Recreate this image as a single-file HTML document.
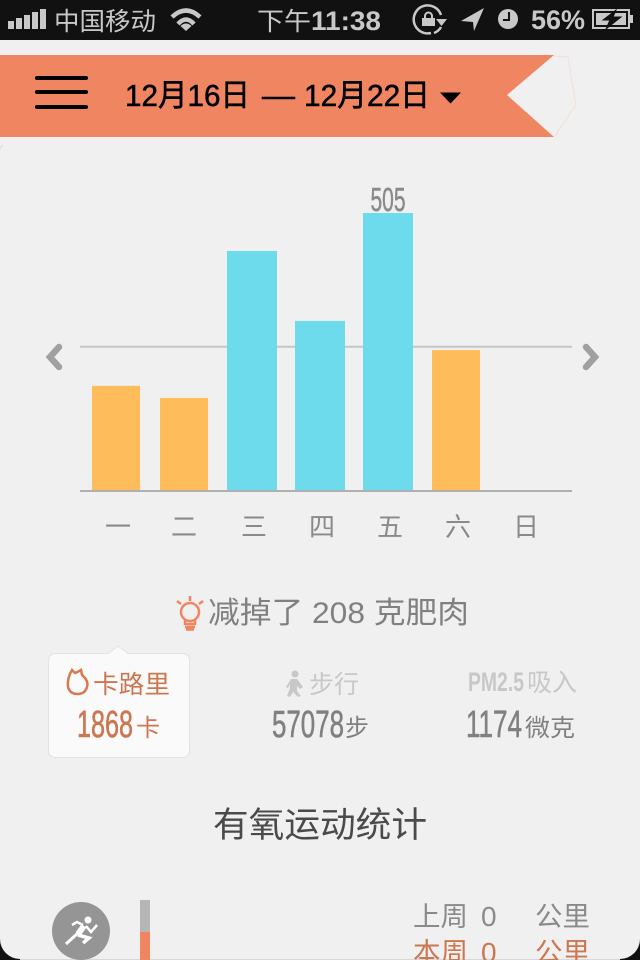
<!DOCTYPE html>
<html lang="zh">
<head>
<meta charset="utf-8">
<title>每周统计</title>
<style>
html,body{margin:0;padding:0;width:640px;height:960px;overflow:hidden;background:#111}
svg{display:block}
text{font-family:"Liberation Sans","Noto Sans CJK SC",sans-serif}
</style>
</head>
<body>
<svg id="screen" xmlns="http://www.w3.org/2000/svg" width="640" height="960" viewBox="0 0 640 960">
  <rect x="0" y="0" width="640" height="960" fill="#111111"/>
  <path d="M0 40H640V939A20 20 0 0 1 620 959H20A20 20 0 0 1 0 939Z" fill="#f0f0f0"/>
  <rect x="20" y="959" width="600" height="1" fill="#d8d8d8"/>
  <path d="M0 150Q0 146 3 145" fill="none" stroke="#dcdcdc" stroke-width="1"/>

  <g fill="#c8c8c8">
    <g>
      <rect x="8" y="21" width="6" height="8"/><rect x="16" y="18" width="6" height="11"/><rect x="24" y="15" width="6" height="14"/><rect x="32" y="12" width="6" height="17"/><rect x="40" y="9" width="6" height="20"/>
    </g>
    <text x="54" y="30" font-size="25" textLength="102" lengthAdjust="spacingAndGlyphs">中国移动</text>
    <g fill="none" stroke="#c8c8c8" stroke-width="4.500">
      <path d="M172 17Q186 4 200 17"/><path d="M178 24Q186 15 194 24"/><path d="M186 31L180.500 26Q186 21 191.500 26Z" fill="#c8c8c8" stroke="none"/>
    </g>
    <text x="257" y="30" font-size="25" textLength="54" lengthAdjust="spacingAndGlyphs">下午</text>
    <text x="311" y="30" font-size="27" font-weight="700" textLength="70" lengthAdjust="spacingAndGlyphs">11:38</text>
    <g>
      <path d="M431 33A14 14 0 1 1 441 15" fill="none" stroke="#c8c8c8" stroke-width="2.500"/>
      <path d="M436 19L447 19L441.500 26Z"/>
      <path d="M434 33Q439 31 441 27" fill="none" stroke="#c8c8c8" stroke-width="2.500"/>
      <rect x="422" y="18" width="13" height="8"/>
      <path d="M425 18V16A3.500 3.500 0 0 1 432 16V18" fill="none" stroke="#c8c8c8" stroke-width="2"/>
    </g>
    <path d="M484 8L461 21L473 22L474 31Z"/>
    <g>
      <circle cx="508" cy="19" r="10"/>
      <path d="M509 12V20H503" fill="none" stroke="#111" stroke-width="2"/>
    </g>
    <text x="531" y="29" font-size="27" font-weight="700" textLength="54" lengthAdjust="spacingAndGlyphs">56%</text>
    <g>
      <rect x="593" y="10" width="36" height="18" fill="none" stroke="#c8c8c8" stroke-width="2"/>
      <rect x="630" y="15" width="3" height="8"/>
      <rect x="596" y="13" width="30" height="12"/>
      <path d="M616 10L603 20H610L606 29L621 17H613Z" fill="#111" stroke="#111" stroke-width="1"/>
    </g>
  </g>

  <g>
    <path d="M0 55H554L507 95L554 137H0Z" fill="#f08562"/>
    <path d="M554 56L568 57L576 105L554 137" fill="none" stroke="#f5dfd7" stroke-width="1"/>
    <g stroke="#000" stroke-width="4" stroke-linecap="round">
      <line x1="37" y1="78" x2="86" y2="78"/><line x1="37" y1="92" x2="86" y2="92"/><line x1="37" y1="107" x2="86" y2="107"/>
    </g>
    <g fill="#000" stroke="#000" stroke-width="0.500">
      <text x="125" y="106" font-size="31" textLength="125" lengthAdjust="spacingAndGlyphs">12月16日</text>
      <text x="262" y="106" font-size="31" textLength="33" lengthAdjust="spacingAndGlyphs">—</text>
      <text x="304" y="106" font-size="31" textLength="126" lengthAdjust="spacingAndGlyphs">12月22日</text>
    </g>
    <path d="M440 92.500H461L450.500 103.500Z" fill="#000"/>
  </g>

  <g id="chart"></g>

  <path d="M59 347L50 357L59 367" fill="none" stroke="#a0a0a0" stroke-width="6.500" stroke-linecap="round" stroke-linejoin="miter"/>
  <path d="M586 347L595 357L586 367" fill="none" stroke="#a0a0a0" stroke-width="6.500" stroke-linecap="round" stroke-linejoin="miter"/>

  <g>
    <g fill="none" stroke="#f08562" stroke-width="2.500">
      <circle cx="190" cy="612" r="9"/>
      <path d="M185 620V624H195V620"/>
      <path d="M185 627H195M186 629.500H194"/>
      <path d="M190 596V601M177 601L181 604M203 601L199 604"/>
    </g>
    <text x="208" y="623" font-size="30" textLength="261" lengthAdjust="spacingAndGlyphs" fill="#808080">减掉了 208 克肥肉</text>
  </g>

  <g>
    <path d="M56 653.500H108L118 646L128 653.500H182Q189.500 653.500 189.500 661V750Q189.500 757.500 182 757.500H56Q48.500 757.500 48.500 750V661Q48.500 653.500 56 653.500Z" fill="#fafafa" stroke="#e2e2e2" stroke-width="1"/>
    <path d="M72 670L75 673Q78 672 81 670L82 675Q89 681 87 687Q85 694 77.500 694Q70 694 68 687Q67 678 72 670Z" fill="none" stroke="#d9774f" stroke-width="2.500"/>
    <text x="93" y="693" font-size="25" textLength="77" lengthAdjust="spacingAndGlyphs" fill="#cb7752">卡路里</text>
    <text x="77" y="737" font-size="38" textLength="56" lengthAdjust="spacingAndGlyphs" fill="#cb7752" stroke="#cb7752" stroke-width="0.600">1868</text>
    <text x="136" y="736" font-size="24" fill="#cb7752">卡</text>
  </g>

  <g>
    <g fill="#c8c8c8">
      <circle cx="295" cy="674" r="3.500"/>
      <path d="M291 679H297L303 687L300 689L297 686L297 691L301 696L298 697L293 692L290 697L287 696L290 688L290 684L288 688L286 687Z"/>
    </g>
    <text x="309" y="693" font-size="25" textLength="50" lengthAdjust="spacingAndGlyphs" fill="#c8c8c8">步行</text>
    <text x="272" y="737" font-size="38" textLength="72" lengthAdjust="spacingAndGlyphs" fill="#808080" stroke="#808080" stroke-width="0.600">57078</text>
    <text x="345" y="736" font-size="24" fill="#808080">步</text>
  </g>

  <g>
    <text x="468" y="691" font-size="27" font-weight="700" textLength="56" lengthAdjust="spacingAndGlyphs" fill="#c8c8c8">PM2.5</text>
    <text x="527" y="691" font-size="25" textLength="50" lengthAdjust="spacingAndGlyphs" fill="#c8c8c8">吸入</text>
    <text x="466" y="737" font-size="38" textLength="56" lengthAdjust="spacingAndGlyphs" fill="#808080" stroke="#808080" stroke-width="0.600">1174</text>
    <text x="525" y="736" font-size="24" textLength="50" lengthAdjust="spacingAndGlyphs" fill="#808080">微克</text>
  </g>

  <text x="213" y="837" font-size="35" textLength="214" lengthAdjust="spacingAndGlyphs" fill="#4a4a4a">有氧运动统计</text>

  <g>
    <ellipse cx="81" cy="931" rx="29" ry="29" fill="#959595"/>
    <g fill="none" stroke="#fff" stroke-width="2.500">
      <circle cx="88" cy="920" r="3.500" fill="#fff" stroke="none"/>
      <path d="M66 944L78 933" stroke-width="3"/>
      <path d="M78 934L84 926" stroke-width="6"/>
      <path d="M78 935L89 938L83 943" stroke-width="3.500"/>
      <path d="M86 926L91 932L97 925"/>
      <path d="M83 925L77 922L72 925"/>
    </g>
    <rect x="140" y="900" width="10" height="32" fill="#b6b6b6"/>
    <rect x="140" y="932" width="10" height="28" fill="#f08562"/>
    <text x="413" y="926" font-size="27" textLength="55" lengthAdjust="spacingAndGlyphs" fill="#8a8a8a">上周</text>
    <text x="481" y="926" font-size="28" fill="#8a8a8a">0</text>
    <text x="535" y="926" font-size="27" textLength="55" lengthAdjust="spacingAndGlyphs" fill="#8a8a8a">公里</text>
    <text x="413" y="962" font-size="27" textLength="55" lengthAdjust="spacingAndGlyphs" fill="#cb7752">本周</text>
    <text x="481" y="962" font-size="28" fill="#cb7752">0</text>
    <text x="535" y="962" font-size="27" textLength="55" lengthAdjust="spacingAndGlyphs" fill="#cb7752">公里</text>
  </g>
</svg>

<script>
var categories = ['一', '二', '三', '四', '五', '六', '日'];
var values = [191, 169, 436, 309, 505, 256, null];
var goalValue = 262;
var peakLabel = '505';

var NS = 'http://www.w3.org/2000/svg';
var chart = document.getElementById('chart');
var baseY = 491;
var pxPerUnit = 278 / 505;
var firstCenter = 116;
var bandStep = 68;
function xCenter(i) { return firstCenter + i * bandStep; }
function yValue(v) { return baseY - v * pxPerUnit; }
function create(tag, attrs) {
  var el = document.createElementNS(NS, tag);
  for (var k in attrs) { el.setAttribute(k, attrs[k]); }
  chart.appendChild(el);
  return el;
}

var goal = create('line', { x1: 80, x2: 572, y1: yValue(goalValue), y2: yValue(goalValue), stroke: '#c6c6c6', 'stroke-width': 2 });



var maxValue = Math.max.apply(null, values.filter(function (v) { return v !== null; }));
values.forEach(function (v, i) {
  if (v === null) { return; }
  var above = v >= goalValue;
  var w = above ? 50 : 48;
  var bar = create('rect', { x: xCenter(i) - w / 2, y: yValue(v), width: w, height: baseY - yValue(v), fill: above ? '#6ddbeb' : '#ffbc5a' });
  
  
  if (v === maxValue) {
    var label = create('text', { x: xCenter(i) - 17.5, y: yValue(v) - 2, 'font-size': 33, fill: '#8a8a8a', stroke: '#8a8a8a', 'stroke-width': 0.5, textLength: 35, lengthAdjust: 'spacingAndGlyphs' });
    label.textContent = peakLabel;
    
    
  }
});

var axis = create('line', { x1: 80, x2: 572, y1: baseY, y2: baseY, stroke: '#b0b0b0', 'stroke-width': 2 });



categories.forEach(function (c, i) {
  var tick = create('text', { x: xCenter(i) + (i === 1 ? 0 : 2), y: 536, 'font-size': 26, 'text-anchor': 'middle', fill: '#8a8a8a' });
  tick.textContent = c;
  
  
});
</script>
</body>
</html>
